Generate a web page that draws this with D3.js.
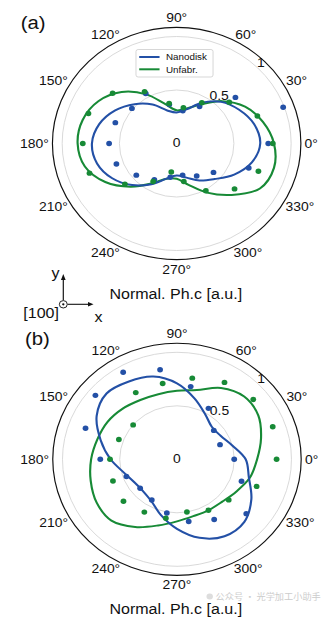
<!DOCTYPE html>
<html><head><meta charset="utf-8">
<script src="https://cdn.jsdelivr.net/npm/d3@7"></script>
<style>html,body{margin:0;padding:0;background:#fff;}svg{display:block;}</style>
</head><body>
<svg id="chart" width="321" height="621"></svg>
<script>
// ---------- data ----------
const thetaTicks = [0,30,60,90,120,150,180,210,240,270,300,330];
const radialTicks = [0, 0.5, 1];
const radialTickLabels = ["0", "0.5", "1"];
const radialLabelAngles = [0, 55, 45.5];
const seriesNames = ["Nanodisk", "Unfabr."];
const pointAngles = [0,20,40,60,80,100,120,140,160,180,200,220,240,260,280,300,320,340];
const fitAngles = [0,15,30,45,60,75,90,105,120,135,150,165,180,195,210,225,240,255,270,285,300,315,330,345];

// panel (a)
const aBluePts  = [0.80,0.99,0.67,0.40,0.31,0.37,0.54,0.51,0.57,0.59,0.56,0.46,0.39,0.32,0.30,0.35,0.42,0.67];
const aGreenPts = [0.84,0.75,0.60,0.44,0.34,0.38,0.56,0.73,0.82,0.82,0.81,0.59,0.41,0.27,0.36,0.51,0.66,0.76];
const aBlueFit  = [0.73,0.70,0.63,0.55,0.44,0.33,0.29,0.32,0.42,0.52,0.62,0.70,0.74,0.72,0.65,0.55,0.44,0.34,0.30,0.33,0.40,0.47,0.58,0.68];
const aGreenFit = [0.85,0.78,0.69,0.56,0.42,0.34,0.31,0.38,0.53,0.68,0.79,0.85,0.865,0.83,0.72,0.57,0.43,0.34,0.33,0.40,0.53,0.68,0.84,0.88];

// panel (b)
const bBluePts  = [0.50,0.40,0.42,0.55,0.69,0.85,0.94,0.93,0.85,0.67,0.47,0.42,0.44,0.51,0.59,0.65,0.79,0.60];
const bGreenPts = [0.87,0.89,0.87,0.83,0.77,0.72,0.72,0.50,0.54,0.585,0.595,0.61,0.57,0.56,0.50,0.55,0.59,0.74];
const bBlueFit  = [0.60,0.50,0.44,0.43,0.49,0.59,0.71,0.80,0.84,0.87,0.81,0.69,0.58,0.48,0.43,0.42,0.45,0.54,0.65,0.76,0.83,0.83,0.75,0.65];
const bGreenFit = [0.70,0.76,0.82,0.83,0.77,0.67,0.64,0.63,0.64,0.67,0.70,0.72,0.75,0.78,0.81,0.81,0.73,0.64,0.58,0.55,0.55,0.56,0.60,0.66];

// ---------- style ----------
const BLUE = "#2350a6", GREEN = "#178a36";
const SX = 1.07;              // horizontal stretch of the picture
const R1 = 107;               // pixels for r = 1
const RMAX = 1.085;
const FONT = "'Liberation Sans', Arial, Helvetica, sans-serif";

const svg = d3.select("#chart");
const root = svg.append("g").attr("transform", `scale(${SX},1)`);
const rScale = d3.scaleLinear().domain([0, 1]).range([0, R1]);
const toRad = d => d * Math.PI / 180;

function panel(cx, cy, blueFit, greenFit, bluePts, greenPts, showLegend) {
  const g = root.append("g").attr("transform", `translate(${cx},${cy})`);
  // grid circles
  g.selectAll("circle.grid").data([0.5, 1]).join("circle")
    .attr("r", d => rScale(d)).attr("fill", "none")
    .attr("stroke", "#d6d6d6").attr("stroke-width", 0.9);
  g.append("circle").attr("r", rScale(RMAX)).attr("fill", "none")
    .attr("stroke", "#111").attr("stroke-width", 1.1);

  // theta labels
  const R = rScale(RMAX) + 3.5;
  thetaTicks.forEach(t => {
    const a = toRad(t), c = Math.cos(a), s = Math.sin(a);
    const txt = g.append("text").text(t + "°")
      .attr("font-family", FONT).attr("font-size", 13).attr("fill", "#111")
      .attr("text-anchor", "middle").attr("dy", "0.35em");
    const w = txt.node().getComputedTextLength();
    const h = 12;
    const px = R * c + (w / 2) * (Math.abs(c) < 1e-6 ? 0 : c);
    const py = -R * s - (h / 2) * (Math.abs(s) < 1e-6 ? 0 : s);
    txt.attr("x", px).attr("y", py);
  });

  // radial labels
  radialTicks.forEach((v, i) => {
    if (v === 0) {
      g.append("text").text(radialTickLabels[i]).attr("x", 0).attr("y", -1)
        .attr("font-family", FONT).attr("font-size", 13).attr("fill", "#111")
        .attr("text-anchor", "middle").attr("dy", "0.35em");
    } else {
      const a = toRad(radialLabelAngles[i]), rr = rScale(v);
      g.append("text").text(radialTickLabels[i])
        .attr("x", rr * Math.cos(a)).attr("y", -rr * Math.sin(a))
        .attr("font-family", FONT).attr("font-size", 13).attr("fill", "#111")
        .attr("text-anchor", "start");
    }
  });

  const line = d3.lineRadial()
    .angle(d => Math.PI / 2 - toRad(d[0]))
    .radius(d => rScale(d[1]))
    .curve(d3.curveCatmullRomClosed.alpha(0.5));

  const fitData = (arr) => fitAngles.map((a, i) => [a, arr[i]]);
  g.append("path").attr("d", line(fitData(greenFit))).attr("fill", "none")
    .attr("stroke", GREEN).attr("stroke-width", 2);
  g.append("path").attr("d", line(fitData(blueFit))).attr("fill", "none")
    .attr("stroke", BLUE).attr("stroke-width", 2);

  const pos = (a, v) => [rScale(v) * Math.cos(toRad(a)), -rScale(v) * Math.sin(toRad(a))];
  g.selectAll("circle.bp").data(pointAngles.map((a, i) => pos(a, bluePts[i]))).join("circle")
    .attr("class", "bp").attr("cx", d => d[0]).attr("cy", d => d[1]).attr("r", 2.7).attr("fill", BLUE);
  g.selectAll("circle.gp").data(pointAngles.map((a, i) => pos(a, greenPts[i]))).join("circle")
    .attr("class", "gp").attr("cx", d => d[0]).attr("cy", d => d[1]).attr("r", 2.7).attr("fill", GREEN);

  if (showLegend) {
    const lg = g.append("g").attr("transform", `translate(${-38},${-94})`);
    lg.append("rect").attr("x", 0).attr("y", 0).attr("width", 72).attr("height", 27.5)
      .attr("rx", 2).attr("fill", "#fff").attr("fill-opacity", 0.85)
      .attr("stroke", "#cfcfcf").attr("stroke-width", 0.8);
    [BLUE, GREEN].forEach((col, i) => {
      const y = 7.5 + i * 12.3;
      lg.append("line").attr("x1", 3).attr("x2", 22).attr("y1", y).attr("y2", y)
        .attr("stroke", col).attr("stroke-width", 2);
      lg.append("text").text(seriesNames[i]).attr("x", 28).attr("y", y + 3.3)
        .attr("font-family", FONT).attr("font-size", 9.2).attr("fill", "#111");
    });
  }
  return g;
}

panel(165.1, 143.5, aBlueFit, aGreenFit, aBluePts, aGreenPts, true);
panel(165.4, 459.3, bBlueFit, bGreenFit, bBluePts, bGreenPts, false);

// panel tags
root.append("text").text("(a)").attr("x", 19.3).attr("y", 29)
  .attr("font-family", FONT).attr("font-size", 19).attr("fill", "#111");
root.append("text").text("(b)").attr("x", 23.4).attr("y", 345)
  .attr("font-family", FONT).attr("font-size", 19).attr("fill", "#111");

// watermark (faint), kept just above the axis title so the two do not collide
const wm = root.append("g").attr("opacity", 0.5);
wm.append("circle").attr("cx", 196).attr("cy", 596.5).attr("r", 3).attr("fill", "#bdbdbd");
wm.append("text").text("公众号 · 光学加工小助手").attr("x", 201.5).attr("y", 600)
  .attr("font-family", "'Noto Sans CJK SC', sans-serif").attr("font-size", 8.6).attr("fill", "#9a9a9a");

// axis labels
root.append("text").text("Normal. Ph.c [a.u.]").attr("x", 164.3).attr("y", 299)
  .attr("text-anchor", "middle").attr("font-family", FONT).attr("font-size", 15).attr("fill", "#111");
root.append("text").text("Normal. Ph.c [a.u.]").attr("x", 164.3).attr("y", 614)
  .attr("text-anchor", "middle").attr("font-family", FONT).attr("font-size", 15).attr("fill", "#111");

// crystal axes icon
const ax = root.append("g");
const ox = 63.3 / SX, oy = 304.3;
ax.append("line").attr("x1", ox).attr("y1", oy - 4).attr("x2", ox).attr("y2", 279)
  .attr("stroke", "#111").attr("stroke-width", 1.1);
ax.append("path").attr("d", `M${ox},274 L${ox - 2.2},280 L${ox + 2.2},280 Z`).attr("fill", "#111");
ax.append("line").attr("x1", ox + 4).attr("y1", oy).attr("x2", 89 / SX).attr("y2", oy)
  .attr("stroke", "#111").attr("stroke-width", 1.1);
ax.append("path").attr("d", `M${93.5 / SX},${oy} L${88 / SX},${oy - 2.2} L${88 / SX},${oy + 2.2} Z`).attr("fill", "#111");
ax.append("circle").attr("cx", ox).attr("cy", oy).attr("r", 3.7).attr("fill", "none")
  .attr("stroke", "#111").attr("stroke-width", 0.9);
ax.append("circle").attr("cx", ox).attr("cy", oy).attr("r", 1.1).attr("fill", "#111");
ax.append("text").text("y").attr("x", 51.5 / SX).attr("y", 278)
  .attr("font-family", FONT).attr("font-size", 15).attr("fill", "#111");
ax.append("text").text("x").attr("x", 94.5 / SX).attr("y", 322)
  .attr("font-family", FONT).attr("font-size", 15).attr("fill", "#111");
ax.append("text").text("[100]").attr("x", 59 / SX).attr("y", 318.5).attr("text-anchor", "end")
  .attr("font-family", FONT).attr("font-size", 15).attr("fill", "#111");
</script>
</body></html>
